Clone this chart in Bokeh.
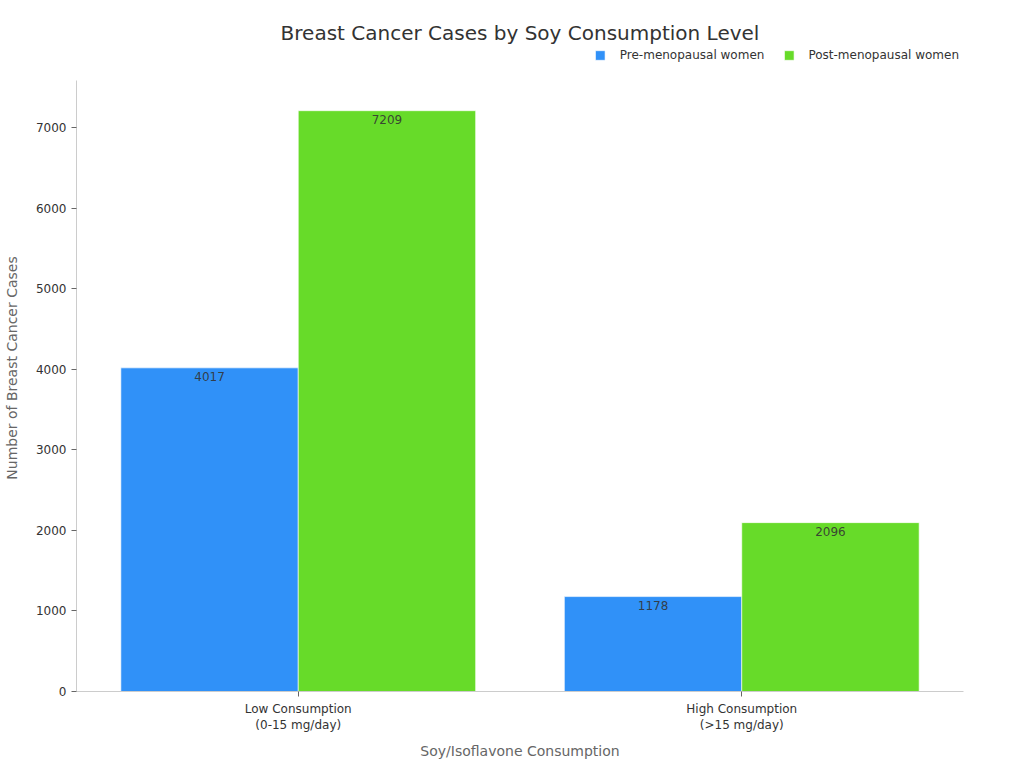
from bokeh.plotting import figure
from bokeh.models import ColumnDataSource, Range1d, Legend, LegendItem, SingleIntervalTicker
from bokeh.transform import dodge
from bokeh.embed import file_html
from bokeh.resources import INLINE
from bokeh.core.properties import value

categories = ["Low Consumption\n(0-15 mg/day)", "High Consumption\n(>15 mg/day)"]
pre_menopausal = [4017, 1178]
post_menopausal = [7209, 2096]
series_names = ["Pre-menopausal women", "Post-menopausal women"]
colors = ["#3091F8", "#67DB29"]
y_label = "Number of Breast Cancer Cases"
x_label = "Soy/Isoflavone Consumption"

FONT = "DejaVu Sans"

src = ColumnDataSource(data=dict(
    cat=categories,
    pre=pre_menopausal,
    post=post_menopausal,
    pre_lbl=[str(v) for v in pre_menopausal],
    post_lbl=[str(v) for v in post_menopausal],
))

# layout: axis region 611px tall, plus 36px headroom for the legend inside the frame
axis_top = max(post_menopausal) * 1.052
axis_px = 611
head_px = 36
y_end = axis_top * (axis_px + head_px) / axis_px

p = figure(x_range=categories, y_range=Range1d(0, y_end),
           frame_width=887, frame_height=axis_px + head_px,
           output_backend="svg", toolbar_location=None,
           min_border_left=70, min_border_right=44, min_border_top=44, min_border_bottom=61)

r1 = p.vbar(x=dodge("cat", -0.2, range=p.x_range), top="pre", width=0.4, source=src,
            fill_color=colors[0], line_color="white", line_alpha=0.6, line_width=1)
r2 = p.vbar(x=dodge("cat", 0.2, range=p.x_range), top="post", width=0.4, source=src,
            fill_color=colors[1], line_color="white", line_alpha=0.6, line_width=1)

p.text(x=dodge("cat", -0.2, range=p.x_range), y="pre", text="pre_lbl", source=src,
       text_align="center", text_baseline="top", y_offset=4, text_font=value(FONT),
       text_font_size="12px", text_color="#333333", text_alpha=0.9)
p.text(x=dodge("cat", 0.2, range=p.x_range), y="post", text="post_lbl", source=src,
       text_align="center", text_baseline="top", y_offset=4, text_font=value(FONT),
       text_font_size="12px", text_color="#333333", text_alpha=0.9)

p.title.text = "Breast Cancer Cases by Soy Consumption Level"
p.title.align = "center"
p.title.text_font = FONT
p.title.text_font_size = "20px"
p.title.text_font_style = "normal"
p.title.text_color = "#333333"
p.title.standoff = 0

legend = Legend(items=[LegendItem(label=series_names[0], renderers=[r1]),
                       LegendItem(label=series_names[1], renderers=[r2])],
                orientation="horizontal", location="top_right",
                label_text_font=FONT, label_text_font_size="12px", label_text_color="#333333",
                glyph_width=12, glyph_height=12, spacing=18, border_line_alpha=0,
                background_fill_alpha=0, margin=3, padding=1, label_height=12,
                label_standoff=14)
p.add_layout(legend)

p.xgrid.visible = False
p.ygrid.visible = False
p.outline_line_color = None

p.yaxis.ticker = SingleIntervalTicker(interval=1000)
p.yaxis.bounds = (0, axis_top)
p.yaxis.axis_label = y_label
p.xaxis.axis_label = x_label
for ax in (p.xaxis, p.yaxis):
    ax.axis_label_text_font = FONT
    ax.axis_label_text_font_size = "14px"
    ax.axis_label_text_font_style = "normal"
    ax.axis_label_text_color = "#666666"
    ax.major_label_text_font = FONT
    ax.major_label_text_font_size = "12px"
    ax.major_label_text_color = "#333333"
    ax.axis_line_color = "#cccccc"
    ax.major_tick_line_color = "#666666"
    ax.minor_tick_line_color = None
    ax.major_tick_out = 5
    ax.major_tick_in = 0
p.yaxis.axis_label_standoff = 13
p.xaxis.axis_label_standoff = 8

open("out.html", "w").write(file_html(p, INLINE))
